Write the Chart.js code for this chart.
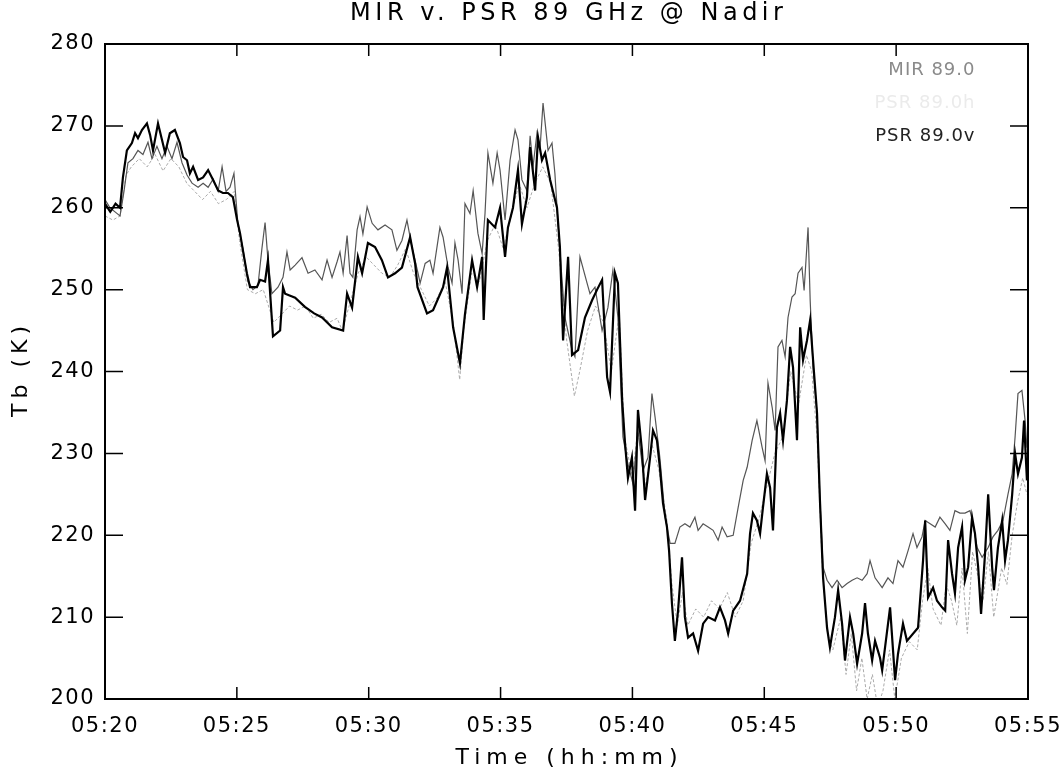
<!DOCTYPE html>
<html>
<head>
<meta charset="utf-8">
<script src="https://cdn.jsdelivr.net/npm/chart.js@4"></script>
<style>
html,body{margin:0;padding:0;background:#fff}
</style>
</head>
<body>
<canvas id="chart" width="1064" height="775"></canvas>
<script>
// minutes after 05:20 and brightness temperature (K)
const psrvMin = [0,0.2,0.4,0.57,0.68,0.83,1.02,1.14,1.25,1.4,
  1.59,1.71,1.82,2.01,2.16,2.28,2.46,2.65,2.84,2.96,
  3.11,3.22,3.34,3.53,3.72,3.91,4.1,4.29,4.47,4.66,
  4.85,5.01,5.12,5.23,5.38,5.5,5.76,5.88,6.07,6.18,
  6.37,6.64,6.75,6.83,7.21,7.58,7.93,8.23,8.61,9.03,
  9.18,9.37,9.59,9.75,9.97,10.24,10.5,10.73,11,11.26,
  11.57,11.76,11.85,12.21,12.44,12.82,12.97,13.2,13.46,13.65,
  13.92,14.11,14.3,14.36,14.52,14.79,14.98,15.17,15.28,15.47,
  15.66,15.81,16,16.12,16.31,16.42,16.57,16.69,16.88,17.14,
  17.25,17.37,17.56,17.71,17.94,18.2,18.47,18.66,18.85,19.04,
  19.15,19.34,19.45,19.61,19.72,19.83,19.98,20.1,20.21,20.36,
  20.48,20.67,20.78,20.93,21.04,21.16,21.31,21.39,21.5,21.61,
  21.73,21.88,21.99,22.11,22.3,22.49,22.68,22.87,23.13,23.32,
  23.51,23.63,23.82,24.08,24.35,24.46,24.57,24.72,24.84,24.95,
  25.1,25.22,25.33,25.48,25.6,25.71,25.86,25.98,26.09,26.24,
  26.36,26.47,26.62,26.74,26.85,27,27.11,27.23,27.38,27.49,
  27.68,27.8,27.95,28.06,28.25,28.37,28.52,28.71,28.82,28.93,
  29.09,29.2,29.39,29.47,29.77,29.96,30.07,30.26,30.41,30.83,
  31.02,31.1,31.21,31.4,31.55,31.74,31.86,31.97,32.12,32.23,
  32.35,32.5,32.61,32.73,32.88,32.99,33.11,33.22,33.37,33.49,
  33.64,33.71,33.86,34.02,34.13,34.24,34.4,34.51,34.62,34.77,
  34.85,34.96]
const psrvTb = [260.5,259.5,260.5,260,263.7,267,267.9,269.1,268.5,269.5,
  270.3,268.9,267,270.3,268.3,266.7,269.1,269.5,267.9,266.2,
  265.8,264.2,265,263.4,263.7,264.6,263.4,262.1,261.8,261.8,
  261.3,258.5,256.9,254.8,252,250.3,250.3,251.2,251,253.6,
  244.3,245,250.3,249.5,249,247.9,247.1,246.6,245.4,245,
  249.5,247.8,254,252,255.7,255.2,253.6,251.5,252,252.7,
  256.4,253.2,250.3,247.1,247.5,250.3,252.7,245.4,241,247,
  253.6,250.3,254,246.3,258.5,257.6,260,254,257.6,260,
  264.6,258,261.3,267.4,262.1,268.6,265.8,266.7,263.4,260,
  255.2,243.8,254,242,242.6,246.6,248.7,250,251.2,239.3,
  237.5,252,250.8,236.5,231.2,227,229.5,223,235.3,230.4,
  224.3,229.5,232.8,231.6,228.3,223.9,221,218.1,211.6,207.1,
  210.8,217.3,210,207.5,208,205.9,209.2,210,209.6,211.2,
  209.6,208,210.8,212,215.3,220.2,222.7,221.8,220.2,223.4,
  227.5,225.8,220.6,233.2,234.9,231.6,236.5,243,240.5,231.6,
  245.4,241.4,243.8,246.3,241.4,234.9,224.3,214.8,208.7,206.3,
  210,213.3,209.2,204.7,210,208,204.3,208,211.7,208,
  204.7,207.1,205,203.5,211.2,202.3,205.5,209.2,207.1,208.7,
  216.9,221.8,212.4,213.6,212,211.2,210.8,219.4,215.3,212.9,
  218.5,221,214.5,216.1,222.2,220.2,216.1,210.4,217.7,225,
  216.1,213.3,218.5,221.8,216.9,219.4,225,230,227.5,229.5,
  234,226.7]

const mirMin = [0,0.19,0.38,0.57,0.72,0.87,1.06,1.25,1.44,1.63,
  1.78,1.97,2.16,2.35,2.54,2.73,2.92,3.11,3.3,3.53,
  3.72,3.91,4.1,4.29,4.44,4.59,4.74,4.89,5.04,5.23,
  5.42,5.61,5.8,5.95,6.07,6.18,6.33,6.56,6.75,6.9,
  7.02,7.21,7.47,7.7,7.96,8.23,8.42,8.61,8.8,8.91,
  9.03,9.18,9.29,9.4,9.56,9.67,9.78,9.94,10.13,10.35,
  10.62,10.88,11.07,11.26,11.45,11.64,11.87,11.95,12.14,12.32,
  12.44,12.7,12.82,13.01,13.16,13.27,13.39,13.54,13.65,13.84,
  13.96,14.14,14.3,14.41,14.52,14.71,14.87,14.98,15.17,15.36,
  15.55,15.66,15.81,16,16.12,16.23,16.38,16.5,16.61,16.8,
  16.95,17.06,17.18,17.33,17.44,17.71,17.82,18.01,18.28,18.39,
  18.58,18.85,19.07,19.26,19.45,19.64,19.83,20.02,20.21,20.4,
  20.59,20.74,20.86,21.04,21.24,21.43,21.61,21.8,21.99,22.18,
  22.37,22.49,22.68,22.87,23.06,23.25,23.4,23.59,23.82,24.01,
  24.2,24.35,24.54,24.72,24.92,25.03,25.14,25.3,25.41,25.52,
  25.67,25.79,25.9,26.05,26.17,26.28,26.43,26.51,26.66,26.74,
  26.85,27,27.11,27.23,27.38,27.57,27.76,27.95,28.14,28.33,
  28.52,28.71,28.9,29.01,29.2,29.47,29.69,29.88,30.07,30.26,
  30.45,30.64,30.79,30.98,31.1,31.29,31.48,31.66,31.86,32.04,
  32.23,32.42,32.61,32.8,32.92,33.07,33.26,33.49,33.67,33.86,
  34.05,34.24,34.4,34.51,34.62,34.77,34.89,34.96]
const mirTb = [261,260,259.5,259,262,265.5,266,267,266.5,268,
  266,267.5,266,267.5,266,268,265.5,264,263,262.5,
  263,262.5,263.5,262,265,262,262.5,264.2,258,255,
  251,250,250.5,255,258.2,253.6,249.5,250.3,251.5,254.6,
  252.4,253,253.9,252,252.4,251.2,253.6,251.5,253.4,254.6,
  252,256.6,252,251.5,257.3,258.9,256.8,260.1,258.1,257.3,
  257.9,257.3,254.8,256,258.5,255.2,252,250.8,253.2,253.6,
  252,257.6,256.4,252.7,250.8,255.7,253.6,249.5,260.5,259.3,
  262.1,256.9,254.4,259.3,266.7,263,266.7,264.6,258.5,265.8,
  269.5,268.3,263.4,262.1,268.8,265,269.1,267.4,272.8,267,
  267.9,264.2,258.1,251.2,246.6,242.6,241.8,254,250.8,249.5,
  250.3,245,247.8,252.4,246.6,232,228.7,226.3,232.8,227.9,
  229.5,237.3,234.4,229.5,222.2,219,219,221,221.4,221,
  222.2,220.6,221.4,221,220.6,219.4,221,219.8,220,223.4,
  226.7,228.3,231.6,234,230.7,229.1,238.6,235.6,232.8,243,
  243.8,241.8,246.6,249.1,249.5,252,252.7,249.9,257.6,248.7,
  240.5,234.9,224.3,216.1,214.5,213.6,214.5,213.6,214.1,214.5,
  214.8,214.5,215.3,216.9,214.8,213.6,214.8,214.1,216.9,216.1,
  218.1,220.2,218.5,219.8,221.8,221.4,221,222.2,221.4,220.6,
  223,222.7,222.7,223,221.4,218.5,217.3,218.5,219.8,220.6,
  221.8,225,227.5,232,237.3,237.7,234,230.7]

const psrhMin = [0,0.3,0.57,0.8,1.0,1.3,1.6,1.9,2.2,2.5,
  2.8,3.1,3.4,3.7,4.0,4.3,4.6,4.9,5.1,5.4,
  5.7,6.0,6.2,6.4,6.7,7.0,7.3,7.6,7.9,8.2,
  8.5,8.8,9.0,9.3,9.6,9.9,10.2,10.5,10.8,11.1,
  11.4,11.7,12.0,12.3,12.6,12.9,13.2,13.45,13.6,13.9,
  14.2,14.5,14.8,15.1,15.4,15.7,16.0,16.3,16.6,16.9,
  17.2,17.5,17.8,18.0,18.3,18.6,18.9,19.2,19.5,19.7,
  20.0,20.2,20.5,20.75,21.0,21.3,21.5,21.7,21.9,22.1,
  22.4,22.7,23.0,23.3,23.6,23.9,24.2,24.5,24.8,25.1,
  25.4,25.7,26.0,26.3,26.6,26.8,27.0,27.2,27.4,27.6,
  27.9,28.1,28.3,28.5,28.7,28.9,29.1,29.3,29.5,29.75,
  29.95,30.2,30.5,30.8,31.0,31.2,31.4,31.7,31.9,32.1,
  32.3,32.5,32.7,32.9,33.1,33.3,33.5,33.7,34.0,34.2,
  34.4,34.6,34.8,34.96]
const psrhTb = [259,258.5,259,264,265,266,265,266.5,264.5,266,
  265,263,262,261,262,260.5,261,262,256,250,
  249.5,250,248,246,247,248,247.5,248,246.5,247,
  246,246.5,245,248.5,252,254,253,252,251.5,253,
  255,252,250,248,249,251,246,239,245,252,
  251,256,258,255,259,263,260,263,265,263,
  255,244,237,240,245,248,246,240,247,232,
  227,233,226,231,228,222,214,209,213,209,
  211,210,212,211,213,210,212,219,222,226,
  230,232,240,236,242,240,232,216,208,206,
  210,203,208,201,205,200,203,199,201,206,
  200,205,207,206,212,216,211,209,214,212,
  209,216,208,218,215,212,218,210,216,214,
  220,224,227,225]

const timeLabels = ['05:20','05:25','05:30','05:35','05:40','05:45','05:50','05:55']
const legendNames = ['MIR 89.0', 'PSR 89.0h', 'PSR 89.0v']

function pts(xs, ys){ return xs.map((x,i) => ({x: x, y: ys[i]})) }

const FONT = 'DejaVu Sans'

function label(ctx, text, x, y, size, spacing){
  ctx.letterSpacing = spacing + 'px'
  ctx.font = size + 'px "' + FONT + '"'
  ctx.fillText(text, x + spacing / 2, y)
}

// frame, inward ticks, title, axis titles, legend text
const decor = {
  id: 'decor',
  beforeDraw(chart){ chart.ctx.letterSpacing = '1.5px' },
  afterDraw(chart){
    const {ctx, chartArea: a, scales: {x, y}} = chart
    ctx.save()
    ctx.strokeStyle = '#000'
    ctx.lineWidth = 2
    ctx.strokeRect(a.left, a.top, a.right - a.left, a.bottom - a.top)
    ctx.lineWidth = 1.5
    ctx.beginPath()
    x.ticks.forEach(t => {
      const px = x.getPixelForValue(t.value)
      ctx.moveTo(px, a.bottom); ctx.lineTo(px, a.bottom - 12)
      ctx.moveTo(px, a.top); ctx.lineTo(px, a.top + 12)
    })
    y.ticks.forEach(t => {
      const py = y.getPixelForValue(t.value)
      ctx.moveTo(a.left, py); ctx.lineTo(a.left + 18, py)
      ctx.moveTo(a.right, py); ctx.lineTo(a.right - 18, py)
    })
    ctx.stroke()

    const cx = (a.left + a.right) / 2
    ctx.fillStyle = '#000'
    ctx.textBaseline = 'middle'
    ctx.textAlign = 'center'
    label(ctx, 'MIR v. PSR 89 GHz @ Nadir', cx, 14, 24, 4.5)
    label(ctx, 'Time (hh:mm)', cx, 758, 22, 6)
    ctx.save()
    ctx.translate(21, (a.top + a.bottom) / 2)
    ctx.rotate(-Math.PI / 2)
    label(ctx, 'Tb (K)', 0, 0, 22, 5)
    ctx.restore()

    ctx.textAlign = 'right'
    const cols = ['#8a8a8a', '#ebebeb', '#222']
    legendNames.forEach((n, i) => {
      ctx.fillStyle = cols[i]
      label(ctx, n, 975, 70 + i * 33, 18, 1)
    })
    ctx.restore()
  }
}

new Chart(document.getElementById('chart'), {
  type: 'line',
  data: {
    datasets: [
      { label: legendNames[2], data: pts(psrvMin, psrvTb), borderColor: '#000', borderWidth: 2.2 },
      { label: legendNames[0], data: pts(mirMin, mirTb), borderColor: '#555', borderWidth: 1.2 },
      { label: legendNames[1], data: pts(psrhMin, psrhTb), borderColor: '#aaa', borderWidth: 1, borderDash: [3, 2] }
    ]
  },
  options: {
    responsive: false,
    animation: false,
    events: [],
    layout: { padding: { top: 44, right: 36, left: 0, bottom: 0 } },
    elements: { point: { radius: 0 }, line: { tension: 0 } },
    plugins: { legend: { display: false }, tooltip: { enabled: false } },
    scales: {
      x: {
        type: 'linear', min: 0, max: 35,
        grid: { display: false, drawTicks: false },
        border: { display: false },
        afterFit(s){ s.height = 76; s.paddingLeft = 0; s.paddingRight = 0 },
        ticks: {
          stepSize: 5, autoSkip: false, maxRotation: 0, padding: 15,
          color: '#000', font: { family: FONT, size: 21 },
          callback: (v, i) => timeLabels[i]
        }
      },
      y: {
        min: 200, max: 280,
        grid: { display: false, drawTicks: false },
        border: { display: false },
        afterFit(s){ s.width = 105 },
        ticks: {
          stepSize: 10, padding: 10,
          color: '#000', font: { family: FONT, size: 21 }
        }
      }
    }
  },
  plugins: [decor]
})
</script>
</body>
</html>
